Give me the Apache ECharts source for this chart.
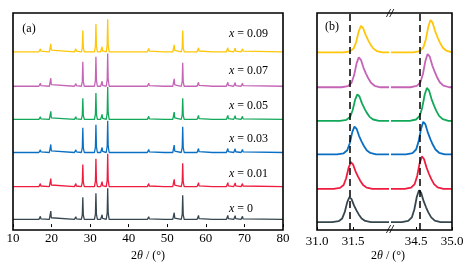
<!DOCTYPE html>
<html>
<head>
<meta charset="utf-8">
<script src="https://cdn.jsdelivr.net/npm/echarts@6/dist/echarts.min.js"></script>
<style>
html,body{margin:0;padding:0;background:#fff;}
#chart{width:476px;height:267px;}
</style>
</head>
<body>
<div id="chart"></div>
<script>
// doping levels, bottom to top
var dopings = ['0', '0.01', '0.03', '0.05', '0.07', '0.09'];
var colors = ['#37474f', '#ee1c3f', '#0a6fc2', '#12a85a', '#c564b6', '#ffc60a'];
var offsets = [0.23, 1.21, 2.23, 3.22, 4.21, 5.24];

// panel (a): peak positions (2theta) and heights per sample
var peaks = [17.1, 19.8, 26.3, 28.1, 31.5, 33.1, 34.55, 36.1, 45.2, 49.6, 51.8, 54.0, 58.1, 62.1, 65.7, 67.6, 69.5];
var heights = [
    [0.09, 0.25, 0.08, 0.66, 0.78, 0.14, 0.93, 0.04, 0.08, 0.03, 0.20, 0.72, 0.12, 0.03, 0.12, 0.11, 0.09],
    [0.09, 0.24, 0.09, 0.66, 0.83, 0.15, 0.98, 0.04, 0.09, 0.03, 0.22, 0.70, 0.12, 0.03, 0.12, 0.11, 0.09],
    [0.08, 0.24, 0.08, 0.74, 0.83, 0.15, 0.95, 0.04, 0.09, 0.03, 0.22, 0.77, 0.12, 0.03, 0.12, 0.11, 0.09],
    [0.08, 0.24, 0.08, 0.63, 0.79, 0.15, 0.97, 0.04, 0.09, 0.03, 0.22, 0.63, 0.12, 0.03, 0.12, 0.11, 0.09],
    [0.09, 0.24, 0.08, 0.73, 0.88, 0.15, 0.98, 0.04, 0.09, 0.03, 0.22, 0.70, 0.12, 0.03, 0.12, 0.11, 0.09],
    [0.09, 0.24, 0.09, 0.64, 0.83, 0.15, 0.97, 0.04, 0.10, 0.03, 0.21, 0.64, 0.12, 0.03, 0.12, 0.11, 0.09]
];
// sharp peak outline [d2theta, relative height]
var sharpShape = [[-0.38, 0], [-0.13, 0.2], [0, 1], [0.13, 0.2], [0.38, 0]];

// panel (b): the two zoomed peaks
var p1Pos = [31.45, 31.47, 31.52, 31.56, 31.58, 31.61];
var p1Height = [0.74, 0.79, 0.82, 0.78, 0.88, 0.78];
var p2Pos = [34.54, 34.58, 34.60, 34.65, 34.66, 34.70];
var p2Height = [0.94, 0.96, 0.96, 0.97, 0.98, 0.95];
var broadShape = [[-0.24, 0], [-0.15, 0.04], [-0.1, 0.15], [-0.065, 0.4], [-0.03, 0.8], [0, 1], [0.03, 0.92],
    [0.065, 0.66], [0.1, 0.46], [0.13, 0.31], [0.17, 0.15], [0.22, 0.05], [0.3, 0]];
var refLines = [31.45, 34.55];

var chart = echarts.init(document.getElementById('chart'));
var serif = '"Liberation Serif", "Times New Roman", serif';

function peakPoints(pos, h, off, shape) {
    var pts = [];
    for (var k = 0; k < shape.length; k++) {
        pts.push([pos + shape[k][0], off + h * shape[k][1]]);
    }
    return pts;
}

var series = [];
for (var i = 0; i < dopings.length; i++) {
    var off = offsets[i];
    var a = [[10, off]];
    for (var j = 0; j < peaks.length; j++) {
        a = a.concat(peakPoints(peaks[j], heights[i][j], off, sharpShape));
    }
    a.push([80, off]);
    series.push({type: 'line', xAxisIndex: 0, yAxisIndex: 0, data: a, showSymbol: false, silent: true,
        lineStyle: {color: colors[i], width: 1.3}});

    var b1 = [[31.0, off]].concat(peakPoints(p1Pos[i], p1Height[i], off, broadShape), [[32.0, off]]);
    series.push({type: 'line', xAxisIndex: 1, yAxisIndex: 1, data: b1, showSymbol: false, silent: true,
        lineStyle: {color: colors[i], width: 1.8}});
    var b2 = [[34.15, off]].concat(peakPoints(p2Pos[i], p2Height[i], off, broadShape), [[35.0, off]]);
    series.push({type: 'line', xAxisIndex: 2, yAxisIndex: 2, data: b2, showSymbol: false, silent: true,
        lineStyle: {color: colors[i], width: 1.8}});
}
// dashed reference lines
var dashStyle = {color: '#000', width: 1.5, type: [7, 4]};
series.push({type: 'line', xAxisIndex: 1, yAxisIndex: 1, data: [], z: 10,
    markLine: {silent: true, symbol: 'none', label: {show: false}, lineStyle: dashStyle, data: [{xAxis: refLines[0]}]}});
series.push({type: 'line', xAxisIndex: 2, yAxisIndex: 2, data: [], z: 10,
    markLine: {silent: true, symbol: 'none', label: {show: false}, lineStyle: dashStyle, data: [{xAxis: refLines[1]}]}});

function xAx(idx, min, max, vals) {
    return {
        type: 'value', gridIndex: idx, min: min, max: max,
        axisLine: {show: false},
        splitLine: {show: false},
        axisTick: {show: true, inside: true, length: 3, lineStyle: {color: '#000', width: 1}, customValues: vals},
        axisLabel: {color: '#000', fontFamily: serif, fontSize: 13, margin: 5, customValues: vals,
            showMinLabel: true, showMaxLabel: true,
            formatter: function (v) { return idx === 0 ? String(v) : v.toFixed(1); }}
    };
}
function yAx(idx) {
    return {type: 'value', gridIndex: idx, min: 0, max: 6.4, show: false};
}

var breakMark = {text: '//', fontFamily: serif, fontSize: 12, fontWeight: 'bold', fontStyle: 'italic', fill: '#000', align: 'center', verticalAlign: 'middle'};
var graphics = [
    {type: 'rect', z: 100, shape: {x: 13, y: 13, width: 270, height: 217}, style: {fill: 'none', stroke: '#000', lineWidth: 1.6}},
    {type: 'rect', z: 100, shape: {x: 317, y: 13, width: 135, height: 217}, style: {fill: 'none', stroke: '#000', lineWidth: 1.6}},
    {type: 'text', z: 101, x: 390, y: 14, style: breakMark},
    {type: 'text', z: 101, x: 390, y: 230, style: breakMark},
    {type: 'text', x: 29, y: 29, style: {text: '(a)', fontFamily: serif, fontSize: 12, fill: '#000', align: 'center', verticalAlign: 'middle'}},
    {type: 'text', x: 332, y: 27, style: {text: '(b)', fontFamily: serif, fontSize: 12, fill: '#000', align: 'center', verticalAlign: 'middle'}},
    {type: 'text', x: 388, y: 256, style: {text: '2{i|θ} / (°)', fontFamily: serif, fontSize: 12, fill: '#000', align: 'center', verticalAlign: 'middle',
        rich: {i: {fontStyle: 'italic', fontFamily: serif, fontSize: 12}}}}
];
var labelY = [209, 174.3, 139.3, 106, 70.7, 34.3];
for (var n = 0; n < dopings.length; n++) {
    graphics.push({type: 'text', x: 229, y: labelY[n], style: {text: '{i|x} = ' + dopings[n], fontFamily: serif, fontSize: 12,
        fill: '#000', align: 'left', verticalAlign: 'middle', rich: {i: {fontStyle: 'italic', fontFamily: serif, fontSize: 12}}}});
}

var xAxes = [xAx(0, 10, 80, [10, 20, 30, 40, 50, 60, 70, 80]), xAx(1, 31, 32, [31.0, 31.5]), xAx(2, 34.15, 35, [34.5, 35.0])];
xAxes[0].name = '2{i|θ} / (°)';
xAxes[0].nameLocation = 'middle';
xAxes[0].nameGap = 19;
xAxes[0].nameTextStyle = {color: '#000', fontFamily: serif, fontSize: 12, rich: {i: {fontStyle: 'italic', fontFamily: serif, fontSize: 12}}};

var option = {
    animation: false,
    backgroundColor: '#fff',
    grid: [
        {left: 13, top: 13, width: 270, height: 217},
        {left: 317, top: 13, width: 72, height: 217},
        {left: 391, top: 13, width: 61, height: 217}
    ],
    xAxis: xAxes,
    yAxis: [yAx(0), yAx(1), yAx(2)],
    series: series,
    graphic: graphics
};
chart.setOption(option);
</script>
</body>
</html>
